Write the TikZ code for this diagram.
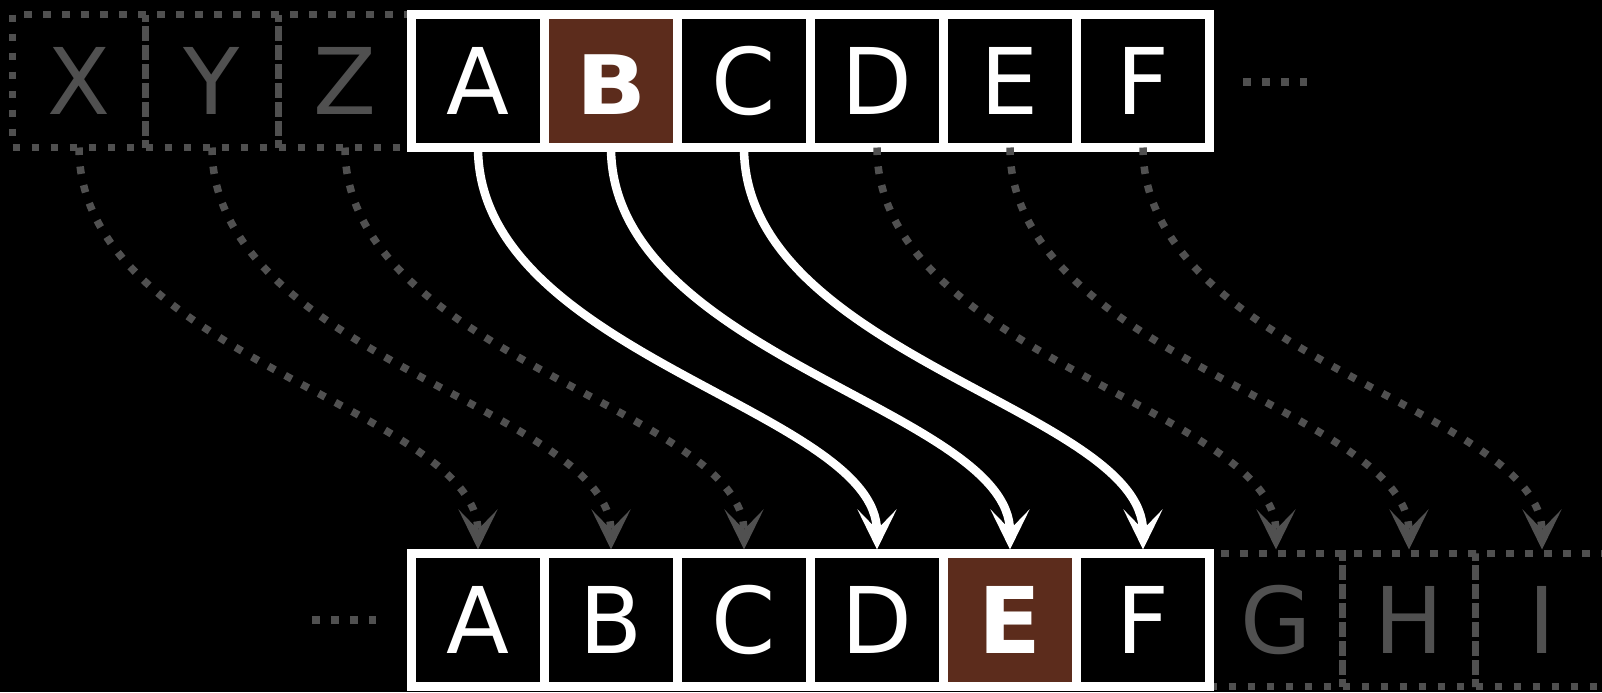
\documentclass[tikz,border=0pt]{standalone}
\usepackage{fontspec}
\setmainfont{DejaVu Sans}
\usetikzlibrary{arrows.meta,calc}
\definecolor{brownfill}{RGB}{92,44,28}
\definecolor{dimgrey}{RGB}{80,80,80}
\begin{document}
\begin{tikzpicture}[x=0.5pt,y=-0.5pt,
  cell/.style={minimum size=66.5pt, inner sep=0pt, outer sep=0pt,
    text height=33.5pt, text depth=0pt,
    font=\fontsize{46}{46}\selectfont},
  whitecell/.style={cell, draw=white, line width=4.75pt, text=white},
  greycell/.style={cell, draw=dimgrey, line width=3.75pt,
    dash pattern=on 3.75pt off 5.75pt, text=dimgrey},
  hot/.style={fill=brownfill},
  headtip/.style={-{Stealth[length=20pt,width=19.5pt,inset=10pt]}},
  warrow/.style={draw=white, line width=4.25pt, headtip, shorten >=2pt},
  garrow/.style={draw=dimgrey, line width=3.75pt,
    dash pattern=on 3.75pt off 5.75pt, headtip, shorten >=2pt},
  dotrow/.style={draw=dimgrey, line width=3.75pt, dash pattern=on 3.75pt off 5.75pt}
]
\fill[black] (0,0) rectangle (1602,692);
\useasboundingbox (0,0) rectangle (1602,692);

% top row
\node[greycell] (tX) at (79,81) {X};
\node[greycell] (tY) at (212,81) {Y};
\node[greycell] (tZ) at (345,81) {Z};
\node[whitecell] (tA) at (478,81) {A};
\node[whitecell,hot] (tB) at (611,81) {\fontsize{41}{41}\selectfont\bfseries\scalebox{1.12}[1]{B}};
\node[whitecell] (tC) at (744,81) {C};
\node[whitecell] (tD) at (877,81) {D};
\node[whitecell] (tE) at (1010,81) {E};
\node[whitecell] (tF) at (1143,81) {F};
\coordinate (e1) at (1243,82);
\coordinate (e2) at (1307,82);
\draw[dotrow] (e1) -- (e2);

% bottom row
\coordinate (e3) at (312,620);
\coordinate (e4) at (376,620);
\draw[dotrow] (e3) -- (e4);
\node[greycell] (bG) at (1276,620) {G};
\node[greycell] (bH) at (1409,620) {H};
\node[greycell] (bI) at (1542,620) {I};
\node[whitecell] (bA) at (478,620) {A};
\node[whitecell] (bB) at (611,620) {B};
\node[whitecell] (bC) at (744,620) {C};
\node[whitecell] (bD) at (877,620) {D};
\node[whitecell,hot] (bE) at (1010,620) {\bfseries E};
\node[whitecell] (bF) at (1143,620) {F};

% arrows
\foreach \s/\t/\st in {tX/bA/garrow,tY/bB/garrow,tZ/bC/garrow,tD/bG/garrow,tE/bH/garrow,tF/bI/garrow,tA/bD/warrow,tB/bE/warrow,tC/bF/warrow}{
  \draw[\st] (\s.south) .. controls ($(\s.south)+(0,208)$) and ($(\t.north)+(0,-144)$) .. (\t.north);
}
\end{tikzpicture}
\end{document}
